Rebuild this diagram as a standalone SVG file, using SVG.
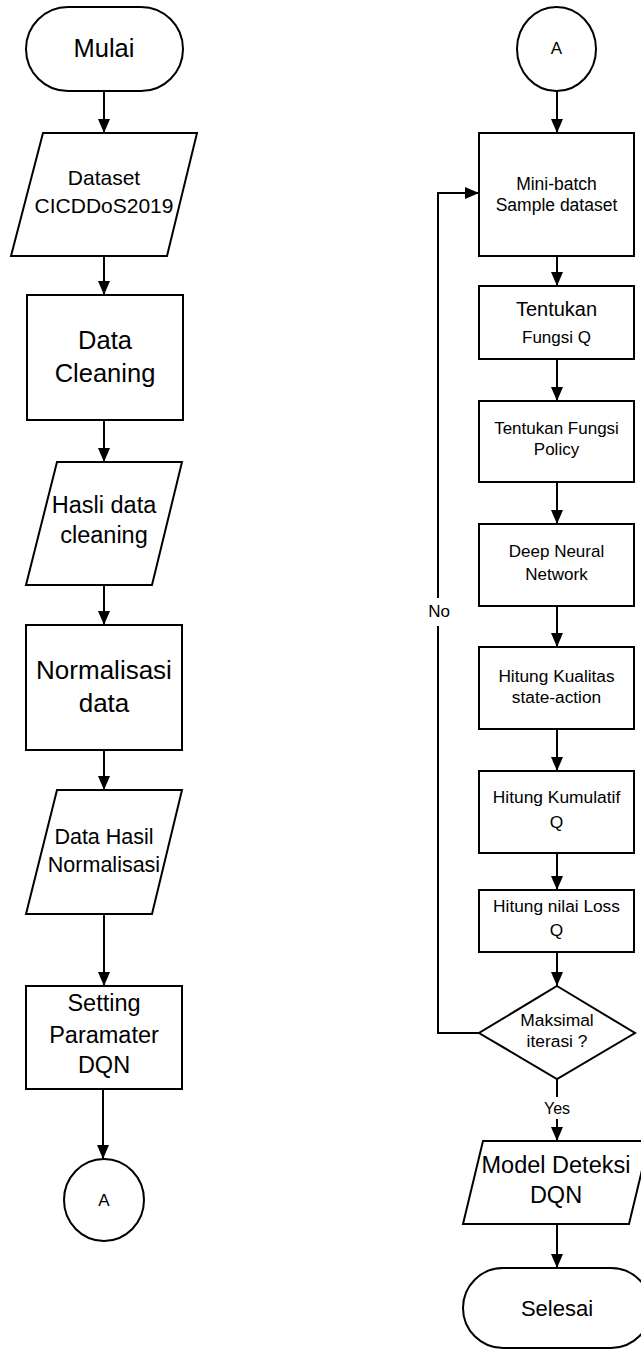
<svg xmlns="http://www.w3.org/2000/svg" width="641" height="1349" viewBox="0 0 641 1349">
<style>
.s{fill:#fff;stroke:#000;stroke-width:2}
.c{fill:none;stroke:#000;stroke-width:2}
text{font-family:"Liberation Sans",Arial,sans-serif;fill:#000;text-anchor:middle}
</style>
<defs>
<marker id="ah" markerUnits="userSpaceOnUse" viewBox="0 0 14 12" refX="14" refY="6" markerWidth="14" markerHeight="12" orient="auto">
<path d="M0,0 L14,6 L0,12 z" fill="#000"/>
</marker>
</defs>
<rect width="641" height="1349" fill="#fff"/>
<g id="connectors">
<path class="c" d="M104,91 V133" marker-end="url(#ah)"/>
<path class="c" d="M104,256 V295" marker-end="url(#ah)"/>
<path class="c" d="M104,420 V462" marker-end="url(#ah)"/>
<path class="c" d="M104,585 V625" marker-end="url(#ah)"/>
<path class="c" d="M104,750 V790" marker-end="url(#ah)"/>
<path class="c" d="M104,914 V986" marker-end="url(#ah)"/>
<path class="c" d="M103,1089 V1159" marker-end="url(#ah)"/>
<path class="c" d="M557,91 V133" marker-end="url(#ah)"/>
<path class="c" d="M557,256 V286" marker-end="url(#ah)"/>
<path class="c" d="M557,359 V401" marker-end="url(#ah)"/>
<path class="c" d="M557,482 V524" marker-end="url(#ah)"/>
<path class="c" d="M557,606 V647" marker-end="url(#ah)"/>
<path class="c" d="M557,729 V771" marker-end="url(#ah)"/>
<path class="c" d="M557,853 V890" marker-end="url(#ah)"/>
<path class="c" d="M557,952 V986" marker-end="url(#ah)"/>
<path class="c" d="M557,1079 V1141" marker-end="url(#ah)"/>
<path class="c" d="M557,1224 V1268" marker-end="url(#ah)"/>
<path class="c" d="M479,1033 H438 V193 H479" marker-end="url(#ah)"/>
<rect x="426" y="598" width="26" height="28" fill="#fff"/>
<text x="439" y="617" font-size="17">No</text>
<rect x="542" y="1097" width="30" height="22" fill="#fff"/>
<text x="557" y="1114" font-size="16">Yes</text>
</g>
<g id="mulai">
<rect class="s" x="26" y="7" width="157" height="84" rx="42" ry="42"/>
<text x="104" y="57" font-size="25.5">Mulai</text>
</g>
<g id="dataset">
<polygon class="s" points="43,133 197,133 167,256 11,256"/>
<text x="104" y="185" font-size="21">Dataset</text>
<text x="104" y="213" font-size="21">CICDDoS2019</text>
</g>
<g id="data-cleaning">
<rect class="s" x="27" y="295" width="156" height="125"/>
<text x="105" y="349" font-size="25.5">Data</text>
<text x="105" y="382" font-size="25.5">Cleaning</text>
</g>
<g id="hasil-cleaning">
<polygon class="s" points="57,462 182,462 152,585 26,585"/>
<text x="104" y="513" font-size="23.5">Hasli data</text>
<text x="104" y="543" font-size="23.5">cleaning</text>
</g>
<g id="normalisasi">
<rect class="s" x="26" y="625" width="156" height="125"/>
<text x="104" y="679" font-size="26">Normalisasi</text>
<text x="104" y="712" font-size="26">data</text>
</g>
<g id="hasil-normalisasi">
<polygon class="s" points="57,790 182,790 152,914 26,914"/>
<text x="104" y="844" font-size="21.5">Data Hasil</text>
<text x="104" y="872" font-size="21.5">Normalisasi</text>
</g>
<g id="setting">
<rect class="s" x="26" y="986" width="156" height="103"/>
<text x="104" y="1011" font-size="23.5">Setting</text>
<text x="104" y="1043" font-size="23.5">Paramater</text>
<text x="104" y="1073" font-size="23.5">DQN</text>
</g>
<g id="conn-a-left">
<ellipse class="s" cx="104" cy="1200" rx="40" ry="41"/>
<text x="104" y="1206" font-size="17">A</text>
</g>
<g id="conn-a-right">
<ellipse class="s" cx="556.5" cy="49" rx="39.5" ry="42"/>
<text x="556.5" y="54" font-size="17">A</text>
</g>
<g id="minibatch">
<rect class="s" x="479" y="133" width="155" height="123"/>
<text x="556.5" y="190" font-size="17.5">Mini-batch</text>
<text x="556.5" y="211" font-size="17.5">Sample dataset</text>
</g>
<g id="fungsi-q">
<rect class="s" x="479" y="286" width="155" height="73"/>
<text x="556.5" y="316" font-size="20">Tentukan</text>
<text x="556.5" y="343" font-size="17">Fungsi Q</text>
</g>
<g id="fungsi-policy">
<rect class="s" x="479" y="401" width="155" height="81"/>
<text x="556.5" y="434" font-size="17">Tentukan Fungsi</text>
<text x="556.5" y="455" font-size="17">Policy</text>
</g>
<g id="dnn">
<rect class="s" x="479" y="524" width="155" height="82"/>
<text x="556.5" y="557" font-size="17">Deep Neural</text>
<text x="556.5" y="580" font-size="17">Network</text>
</g>
<g id="kualitas">
<rect class="s" x="479" y="647" width="155" height="82"/>
<text x="556.5" y="682" font-size="17.3">Hitung Kualitas</text>
<text x="556.5" y="703" font-size="17.3">state-action</text>
</g>
<g id="kumulatif">
<rect class="s" x="479" y="771" width="155" height="82"/>
<text x="556.5" y="803" font-size="17.4">Hitung Kumulatif</text>
<text x="556.5" y="828" font-size="17.4">Q</text>
</g>
<g id="loss">
<rect class="s" x="479" y="890" width="155" height="62"/>
<text x="556.5" y="912" font-size="17.3">Hitung nilai Loss</text>
<text x="556.5" y="936" font-size="17.3">Q</text>
</g>
<g id="decision">
<polygon class="s" points="557,986 635,1033 557,1079 479,1033"/>
<text x="557" y="1026" font-size="17.4">Maksimal</text>
<text x="557" y="1047" font-size="17.4">iterasi ?</text>
</g>
<g id="model">
<polygon class="s" points="483,1141 649,1141 629,1224 463,1224"/>
<text x="556" y="1173" font-size="23.5">Model Deteksi</text>
<text x="556" y="1203" font-size="23.5">DQN</text>
</g>
<g id="selesai">
<rect class="s" x="463" y="1268" width="188" height="80" rx="40" ry="40"/>
<text x="557" y="1316" font-size="22">Selesai</text>
</g>
</svg>
